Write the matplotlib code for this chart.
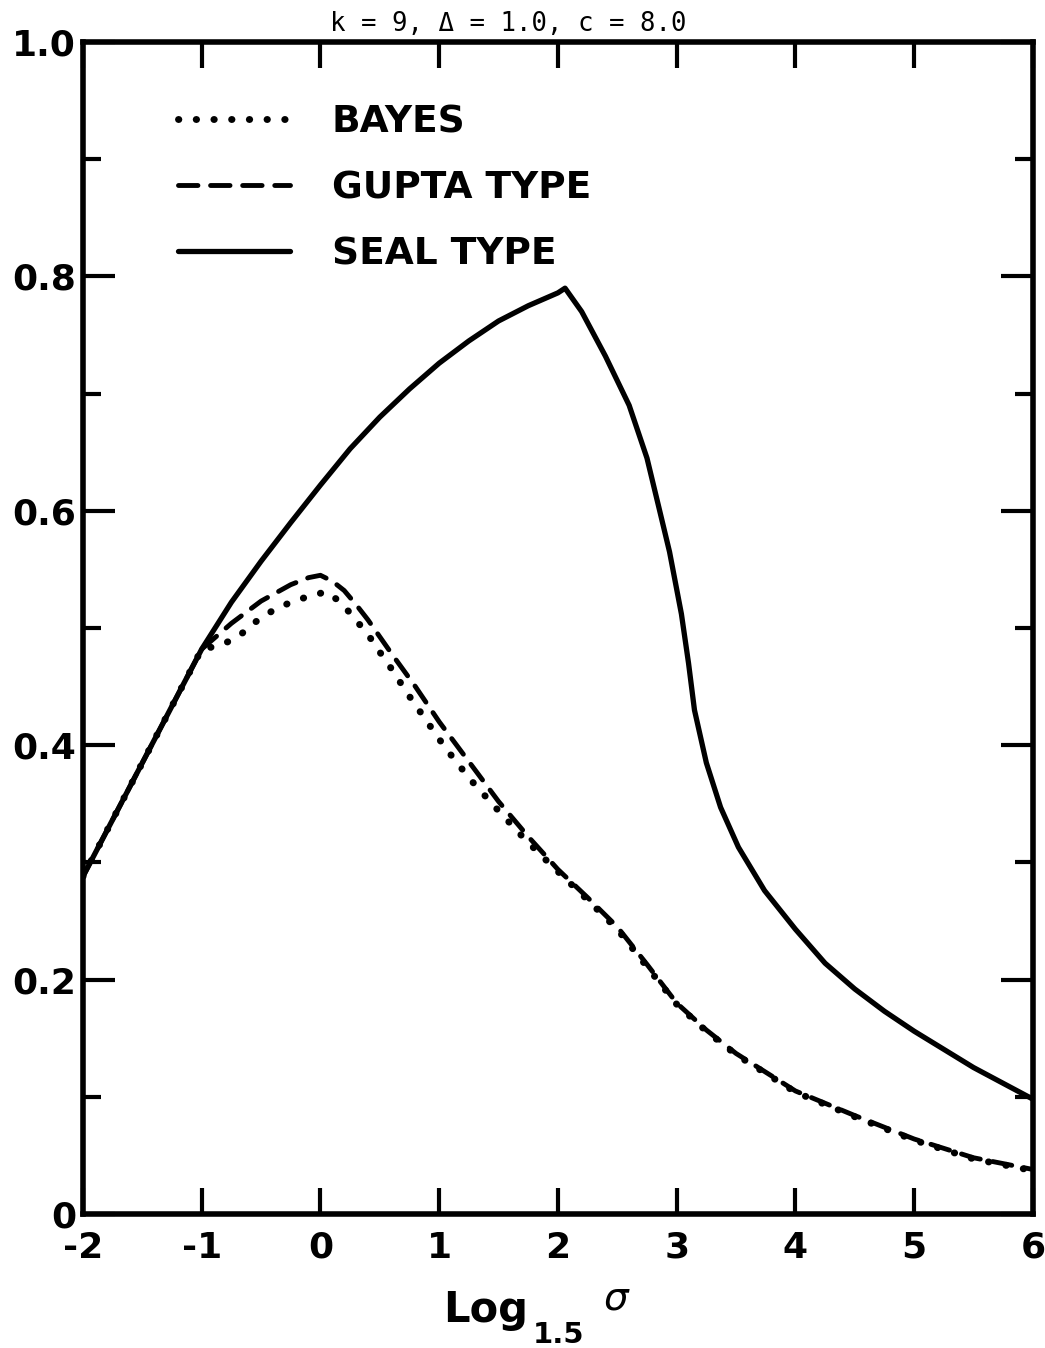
import matplotlib
matplotlib.use("Agg")
import matplotlib.pyplot as plt
from matplotlib.ticker import MultipleLocator

# values (x = log base 1.5 of sigma)
seal_x = [-2, -1.5, -1, -0.75, -0.5, -0.25, 0, 0.25, 0.5, 0.75, 1, 1.25, 1.5, 1.75, 2.0,
          2.06, 2.2, 2.4, 2.6, 2.75, 2.85, 2.94, 3.04, 3.1, 3.15, 3.25, 3.37, 3.52, 3.74,
          4.0, 4.25, 4.5, 4.75, 5.0, 5.5, 6.0]
seal_y = [0.288, 0.385, 0.482, 0.522, 0.557, 0.59, 0.622, 0.653, 0.68, 0.704, 0.726, 0.745,
          0.762, 0.775, 0.786, 0.79, 0.77, 0.732, 0.69, 0.645, 0.603, 0.565, 0.512, 0.47,
          0.43, 0.385, 0.347, 0.313, 0.276, 0.243, 0.214, 0.192, 0.173, 0.156, 0.125, 0.098]

gupta_x = [-2, -1.5, -1, -0.875, -0.75, -0.5, -0.25, -0.1, 0, 0.1, 0.2, 0.3, 0.4, 0.6, 0.8,
           1.0, 1.25, 1.5, 1.75, 2.0, 2.25, 2.5, 2.75, 3.0, 3.25, 3.5, 4.0, 4.5, 5.0, 5.5, 6.0]
gupta_y = [0.288, 0.385, 0.482, 0.493, 0.504, 0.523, 0.537, 0.543, 0.545, 0.54, 0.532, 0.52,
           0.507, 0.478, 0.45, 0.42, 0.386, 0.352, 0.322, 0.294, 0.27, 0.245, 0.213, 0.18,
           0.157, 0.137, 0.105, 0.084, 0.064, 0.048, 0.038]

bayes_x = [-2, -1.5, -1, -0.85, -0.7, -0.55, -0.4, -0.25, -0.1, 0.05, 0.17, 0.29, 0.41, 0.51,
           0.62, 0.72, 0.94, 1.05, 1.26, 1.5, 1.72, 1.95, 2.25, 2.5, 2.75, 3.0, 3.25, 3.5,
           4.0, 4.5, 5.0, 5.5, 6.0]
bayes_y = [0.288, 0.385, 0.482, 0.485, 0.492, 0.505, 0.515, 0.522, 0.527, 0.531, 0.522, 0.508,
           0.493, 0.478, 0.462, 0.446, 0.414, 0.398, 0.371, 0.344, 0.32, 0.297, 0.268, 0.243,
           0.211, 0.179, 0.156, 0.136, 0.104, 0.083, 0.063, 0.047, 0.037]

x_ticks = [-2, -1, 0, 1, 2, 3, 4, 5, 6]
y_ticks = [0, 0.2, 0.4, 0.6, 0.8, 1.0]
y_labels = ["0", "0.2", "0.4", "0.6", "0.8", "1.0"]

plt.rcParams['mathtext.fontset'] = 'dejavusans'

fig = plt.figure(figsize=(10.45, 13.48), dpi=100)
ax = fig.add_axes([0.0794, 0.0994, 0.909, 0.8694])

ax.plot(seal_x, seal_y, color='black', lw=3.8, solid_capstyle='round',
        solid_joinstyle='round', label='SEAL TYPE')
ax.plot(gupta_x, gupta_y, color='black', lw=3.5, linestyle=(0, (4.0, 2.6)),
        dash_capstyle='round', label='GUPTA TYPE')
ax.plot(bayes_x, bayes_y, color='black', lw=5.0, linestyle=(0, (0.05, 2.5)),
        dash_capstyle='round', label='BAYES')

ax.set_xlim(-2, 6)
ax.set_ylim(0, 1.0)

for s in ax.spines.values():
    s.set_linewidth(4)

ax.set_xticks(x_ticks)
ax.set_xticklabels([str(t) for t in x_ticks])
ax.set_yticks(y_ticks)
ax.set_yticklabels(y_labels)
ax.yaxis.set_minor_locator(MultipleLocator(0.1))

ax.tick_params(axis='x', which='major', direction='in', length=19, width=3,
               top=True, bottom=True, labelsize=26, pad=12)
ax.tick_params(axis='y', which='major', direction='in', length=23, width=3,
               left=True, right=True, labelsize=26, pad=5)
ax.tick_params(axis='y', which='minor', direction='in', length=13, width=3,
               left=True, right=True)
for lab in ax.get_xticklabels() + ax.get_yticklabels():
    lab.set_fontweight('bold')

# axis label: Log, subscript 1.5, sigma
fig.text(443 / 1045, 1 - 1322 / 1348, 'Log', fontsize=30, fontweight='bold',
         ha='left', va='baseline')
fig.text(533 / 1045, 1 - 1343 / 1348, '1.5', fontsize=21, fontweight='bold',
         ha='left', va='baseline')
fig.text(603 / 1045, 1 - 1310 / 1348, r'$\sigma$', fontsize=28,
         ha='left', va='baseline')

ax.text(0.448, 1.004, 'k = 9, Δ = 1.0, c = 8.0', transform=ax.transAxes,
        family='DejaVu Sans Mono', fontsize=18.5, ha='center', va='bottom')

handles, labels = ax.get_legend_handles_labels()
order = [2, 1, 0]
ax.legend([handles[i] for i in order], [labels[i] for i in order],
          loc='upper left', bbox_to_anchor=(0.1, 0.947), frameon=False,
          prop={'size': 27, 'weight': 'bold'}, handlelength=3.0, handletextpad=1.1,
          labelspacing=0.8, borderpad=0, borderaxespad=0)

fig.savefig('out.png', dpi=100)
